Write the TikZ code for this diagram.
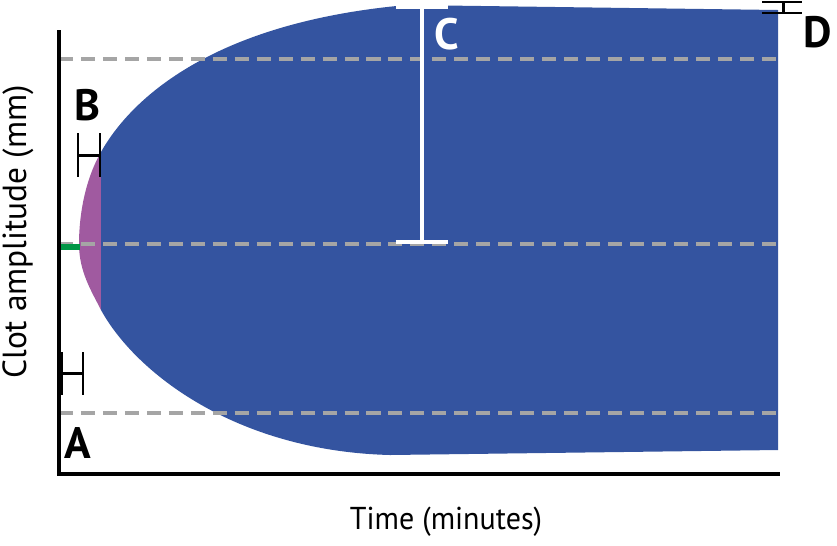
\documentclass[tikz,border=0pt]{standalone}
\usepackage{fontspec}
\setmainfont{PT Sans}
\newfontfamily\narrowsans[FakeStretch=0.95]{PT Sans}
\usetikzlibrary{positioning}

\definecolor{clotblue}{RGB}{52,84,160}
\definecolor{clotpurple}{RGB}{160,90,160}
\definecolor{clotgreen}{RGB}{0,150,70}
\definecolor{guidegray}{RGB}{165,165,165}

\begin{document}
\begin{tikzpicture}[
    x=0.02cm, y=-0.02cm,
    axis/.style={draw=black, line width=2pt},
    guide/.style={draw=guidegray, line width=1.8pt, dash pattern=on 8pt off 4.5pt},
    bracket/.style={draw=black, line width=1.7pt},
    letter/.style={font=\fontsize{25}{25}\selectfont\bfseries, inner sep=0pt},
    axislabel/.style={font=\narrowsans\fontsize{18}{18}\selectfont, inner sep=0pt},
]
    \useasboundingbox (0,0) rectangle (837,545);

    % clot body
    \fill[clotpurple] (101,152) .. controls (85,180) and (79,215) .. (79,244)
        .. controls (79,272) and (92,292) .. (101,310) -- cycle;
    \fill[clotblue] (101,152) .. controls (132,97) and (215,22) .. (407,5)
        -- (778,10) -- (778,450) -- (390,455)
        .. controls (235,451) and (135,372) .. (101,310) -- cycle;

    % reference levels
    \draw[guide] (59,59) -- (778,59);
    \draw[guide] (59,244) -- (778,244);
    \draw[guide] (59,413) -- (778,413);

    \draw[clotgreen, line width=3pt] (59,247) -- (80,247);

    % axes
    \draw[axis] (59,30) -- (59,474) -- (780,474);

    % maximum amplitude
    \coordinate (ctop) at (422,7);
    \coordinate (cbot) at (422,242);
    \draw[white, line width=2pt] (ctop) -- (cbot);
    \draw[white, line width=2pt] ([xshift=-15]ctop) -- ([xshift=15]ctop);
    \draw[white, line width=2pt] ([xshift=-15]cbot) -- ([xshift=15]cbot);

    % interval marks
    \draw[bracket] (78,133) -- (78,177) (100,133) -- (100,177) (78,155) -- (100,155);
    \draw[bracket] (62,352) -- (62,395) (83,352) -- (83,395) (62,373) -- (83,373);
    \draw[bracket] (762,2) -- (802,2) (762,13) -- (802,13) (783,2) -- (783,13);

    \node[letter] (lblA) at (78,443) {A};
    \node[letter] (lblB) at (87,105) {B};
    \node[letter, text=white] (lblC) at (447,34) {C};
    \node[letter] (lblD) at (818,32) {D};

    \node[axislabel] (xlabel) at (446,522) {Time (minutes)};
    \node[axislabel, font=\fontsize{19}{19}\selectfont, rotate=90] (ylabel) at (18,232) {Clot amplitude (mm)};

\end{tikzpicture}
\end{document}
